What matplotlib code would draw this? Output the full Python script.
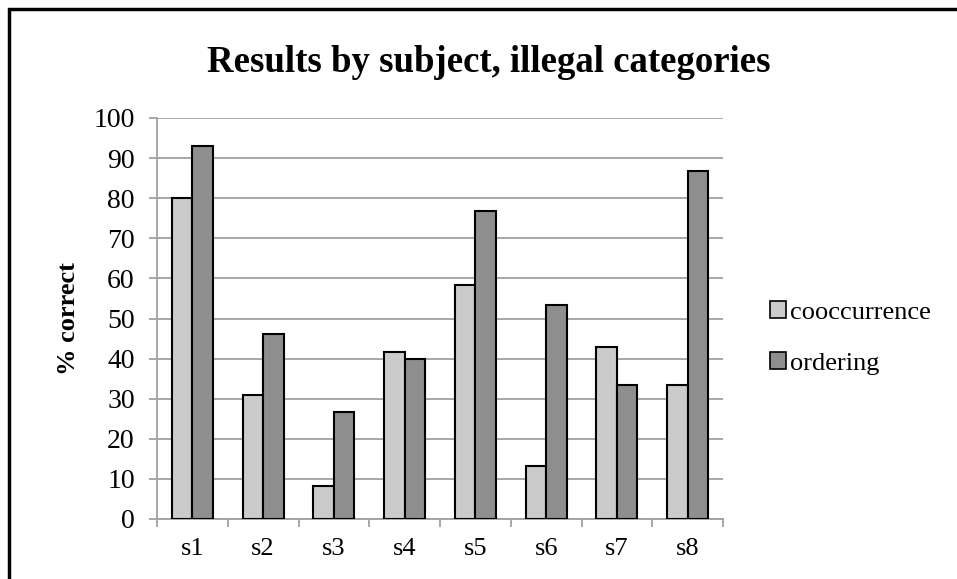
import numpy as np
import matplotlib
matplotlib.use("Agg")
import matplotlib.pyplot as plt
from matplotlib.patches import Rectangle, Patch

subjects = ["s1", "s2", "s3", "s4", "s5", "s6", "s7", "s8"]
cooccurrence = [80.0, 30.8, 8.3, 41.7, 58.3, 13.3, 42.9, 33.3]
ordering = [92.9, 46.2, 26.7, 40.0, 76.9, 53.3, 33.3, 86.7]

light = "#cbcbcb"
dark = "#8e8e8e"
gridc = "#a0a0a0"

plt.rcParams['font.family'] = ['Liberation Serif', 'DejaVu Serif']

fig = plt.figure(figsize=(9.57, 5.79), dpi=100)
ax = fig.add_axes([157/957, 1-519/579, 566/957, 401/579])

x = np.arange(len(subjects))
w = 0.29
ax.bar(x - w/2, cooccurrence, w, color=light, edgecolor="black", linewidth=1.5, zorder=3)
ax.bar(x + w/2, ordering, w, color=dark, edgecolor="black", linewidth=1.5, zorder=3)

ax.set_xlim(-0.5, len(subjects) - 0.5)
ax.set_ylim(0, 100)
ax.set_yticks(range(0, 101, 10))
ax.yaxis.grid(True, color=gridc, linewidth=1.3, zorder=0)
ax.set_axisbelow(True)

# ticks at category boundaries, labels at centers
ax.set_xticks(np.arange(-0.5, len(subjects)), minor=False)
ax.set_xticklabels([])
ax.set_xticks(x, minor=True)
ax.set_xticklabels(subjects, minor=True)
ax.tick_params(axis="x", which="major", length=6, color=gridc, width=1.3, direction="out")
ax.tick_params(axis="x", which="minor", length=0, pad=14, labelsize=19)
ax.tick_params(axis="y", length=6, color=gridc, width=1.3, labelsize=20, pad=10)

for side in ["top", "right"]:
    ax.spines[side].set_visible(False)
for side in ["left", "bottom"]:
    ax.spines[side].set_color(gridc)
    ax.spines[side].set_linewidth(1.3)

ax.set_ylabel("% correct", fontsize=19, fontweight="bold", labelpad=10)

fig.text(489/957, 1-72/579, "Results by subject, illegal categories",
         fontsize=26.5, fontweight="bold", ha="center", va="baseline")

handles = [Patch(facecolor=light, edgecolor="black", linewidth=1.2),
           Patch(facecolor=dark, edgecolor="black", linewidth=1.2)]
fig.legend(handles, ["cooccurrence", "ordering"], loc="center left",
           bbox_to_anchor=(746/957, 1-338/579), frameon=False, fontsize=19,
           handlelength=0.6, handleheight=0.6, handletextpad=0.15, labelspacing=1.05)

# outer frame of the chart area
fig.patches.append(Rectangle((9/957, -0.02), 1.0, 1-9/579+0.02, transform=fig.transFigure,
                             fill=False, edgecolor="black", linewidth=2.5))

fig.savefig("out.png", dpi=100)
